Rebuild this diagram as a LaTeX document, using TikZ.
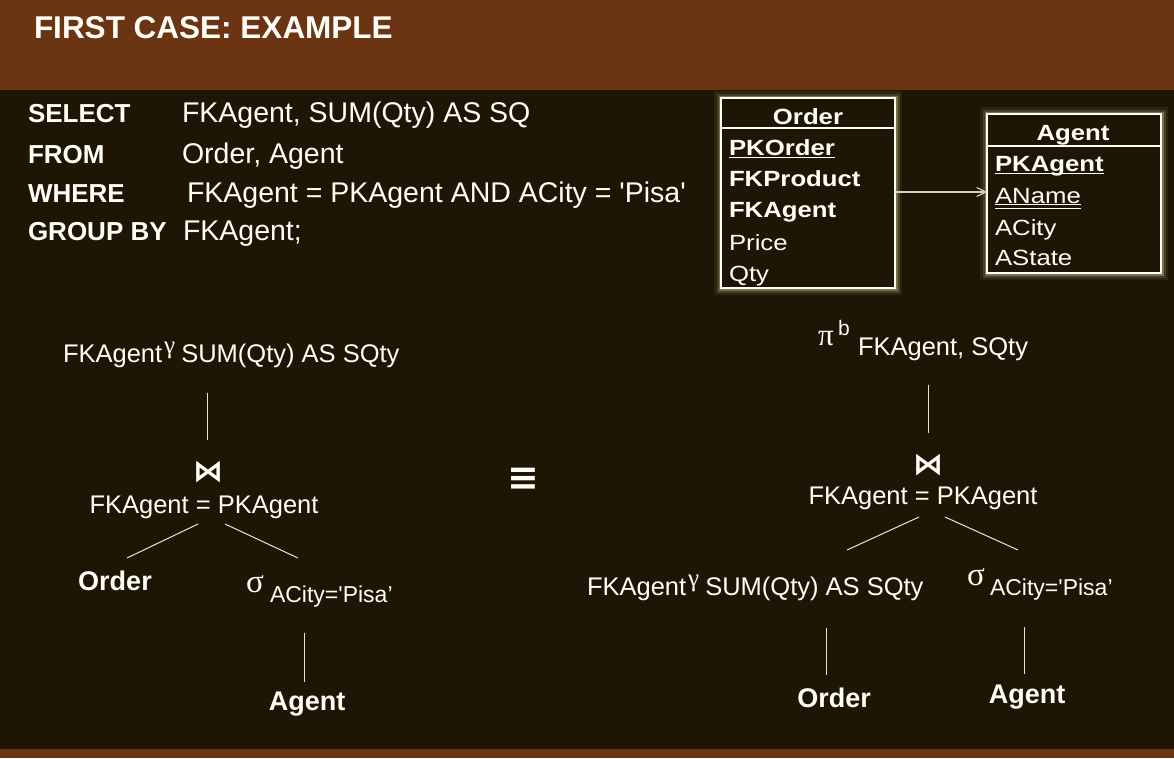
\documentclass[tikz,border=0pt]{standalone}
\usepackage{fontspec}
\setmainfont{Liberation Sans}
\newfontfamily\erfont[FakeStretch=1.17]{Liberation Sans}
\newfontfamily\symfnt{DejaVu Sans}
\newfontfamily\grk{Liberation Serif}
\usetikzlibrary{arrows.meta,calc}
\definecolor{bandc}{HTML}{6B3513}
\definecolor{bgc}{HTML}{1F1505}
\definecolor{fgc}{HTML}{FFFFF8}
\definecolor{linec}{HTML}{E6E6D2}
\definecolor{glowc}{HTML}{F0E8A8}
\definecolor{arrc}{HTML}{D4D4C4}
\newcommand\fsz[1]{\fontsize{#1}{#1}\selectfont}
\newcommand\gam{\hspace{2pt}\raisebox{9pt}{\grk\fsz{25}γ}\hspace{6pt}}
\begin{document}
\begin{tikzpicture}[x=1pt,y=-1pt,
  every node/.style={inner sep=0pt,outer sep=0pt,text=fgc},
  titletx/.style={font=\bfseries\fsz{31.5}},
  sqlkw/.style={font=\bfseries\fsz{26}},
  sqlval/.style={font=\fsz{28.5}},
  trtxt/.style={font=\fsz{25.5}},
  leaf/.style={font=\bfseries\fsz{27}},
  subtx/.style={font=\fsz{23}},
  grksym/.style={font=\grk\fsz{33}},
  joinsym/.style={font=\symfnt\bfseries\fsz{30}},
  eqsym/.style={font=\symfnt\bfseries\fsz{38}},
  erhd/.style={font=\erfont\bfseries\fsz{22}},
  errg/.style={font=\erfont\fsz{22}},
  erbox/.style={draw=fgc,line width=1.8pt,fill=bgc,
    preaction={draw=glowc,line width=14pt,opacity=0.07},
    preaction={draw=glowc,line width=9pt,opacity=0.14},
    preaction={draw=glowc,line width=5pt,opacity=0.3}},
  erline/.style={draw=fgc,line width=1.8pt},
  erarrow/.style={draw=arrc,line width=1.2pt,-{Straight Barb[length=9pt,width=9pt]}},
  ul/.style={draw=fgc,line width=1.5pt},
  edge/.style={draw=linec,line width=1pt}]
\useasboundingbox (0,0) rectangle (1174,758);
\fill[bgc] (0,0) rectangle (1174,758);
\fill[bandc] (0,0) rectangle (1174,90);
\fill[bandc] (0,749) rectangle (1174,758);

% title
\node[titletx,anchor=base west] (title) at (34,38) {FIRST CASE: EXAMPLE};

% SQL
\node[sqlkw,anchor=base west] (kwsel) at (28,122) {SELECT};
\node[sqlkw,anchor=base west] (kwfrom) at (28,163) {FROM};
\node[sqlkw,anchor=base west] (kwwhere) at (28,202) {WHERE};
\node[sqlkw,anchor=base west] (kwgroup) at (28,240) {GROUP BY};
\node[sqlval,anchor=base west] (vsel) at (182,122) {FKAgent, SUM(Qty) AS SQ};
\node[sqlval,anchor=base west] (vfrom) at (182,163) {Order, Agent};
\node[sqlval,anchor=base west] (vwhere) at (187,202) {FKAgent = PKAgent AND ACity = \textquotesingle Pisa\textquotesingle};
\node[sqlval,anchor=base west] (vgroup) at (183,240) {FKAgent;};

% ER boxes
\node[erbox,minimum width=174pt,minimum height=190pt] (ordbox) at (808,193) {};
\node[erbox,minimum width=174pt,minimum height=159pt] (agbox) at (1074,193.5) {};
\draw[erline] (ordbox.west |- 0,128) -- (ordbox.east |- 0,128);
\draw[erline] (agbox.west |- 0,146) -- (agbox.east |- 0,146);
\draw[erarrow] (ordbox.east |- 0,192) -- (agbox.west |- 0,192);

\node[erhd,anchor=base] (ordhd) at (808,124) {Order};
\node[erhd,anchor=base west] (pko) at (729,155) {PKOrder};
\node[erhd,anchor=base west] (fkp) at (729,186) {FKProduct};
\node[erhd,anchor=base west] (fka) at (729,217) {FKAgent};
\node[errg,anchor=base west] (price) at (729,250) {Price};
\node[errg,anchor=base west] (qty) at (729,281) {Qty};
\draw[ul] ($(pko.base west)+(0,2.5)$) -- ($(pko.base east)+(0,2.5)$);

\node[erhd,anchor=base] (aghd) at (1073,140) {Agent};
\node[erhd,anchor=base west] (pka) at (995,171) {PKAgent};
\node[errg,anchor=base west] (aname) at (995,203) {AName};
\node[errg,anchor=base west] (acity) at (995,235) {ACity};
\node[errg,anchor=base west] (astate) at (995,265) {AState};
\draw[ul] ($(pka.base west)+(0,2.5)$) -- ($(pka.base east)+(0,2.5)$);
\draw[ul,line width=1.2pt] ($(aname.base west)+(0,1.5)$) -- ($(aname.base east)+(0,1.5)$);
\draw[ul,line width=1.2pt] ($(aname.base west)+(0,5.5)$) -- ($(aname.base east)+(0,5.5)$);

% left tree
\node[trtxt,anchor=base west] (lgrp) at (63,362) {FKAgent\gam SUM(Qty) AS SQty};
\node[joinsym] (ljn) at (208,472) {⋈};
\node[trtxt,anchor=base] (lcond) at (204,513) {FKAgent = PKAgent};
\node[leaf,anchor=base] (lord) at (115,590) {Order};
\node[grksym,anchor=base west] (lsig) at (246,592) {σ};
\node[subtx,anchor=base west] (lsub) at (270,602) {ACity=\textquotesingle Pisa’};
\node[leaf,anchor=base] (lag) at (307,710) {Agent};
\coordinate (la1) at (207,393); \coordinate (la2) at (207,440);
\coordinate (lb1) at (198,524); \coordinate (lb2) at (127,558);
\coordinate (lc1) at (225,524); \coordinate (lc2) at (298,558);
\coordinate (ld1) at (304,633); \coordinate (ld2) at (304,682);
\draw[edge] (la1) -- (la2);
\draw[edge] (lb1) -- (lb2);
\draw[edge] (lc1) -- (lc2);
\draw[edge] (ld1) -- (ld2);

% equivalence
\node[eqsym] (equiv) at (523,479) {≡};

% right tree
\node[grksym,anchor=base west,font=\grk\fsz{31}] (rpi) at (818,345) {π};
\node[trtxt,anchor=base west,font=\fsz{21}] (rb) at (838,335) {b};
\node[trtxt,anchor=base west] (rproj) at (858,355) {FKAgent, SQty};
\node[joinsym] (rjn) at (928,465) {⋈};
\node[trtxt,anchor=base] (rcond) at (923,504) {FKAgent = PKAgent};
\node[trtxt,anchor=base west] (rgrp) at (587,595) {FKAgent\gam SUM(Qty) AS SQty};
\node[grksym,anchor=base west] (rsig) at (967,585) {σ};
\node[subtx,anchor=base west] (rsub) at (990,595) {ACity=\textquotesingle Pisa’};
\node[leaf,anchor=base] (rord) at (834,707) {Order};
\node[leaf,anchor=base] (rag) at (1027,703) {Agent};
\coordinate (ra1) at (928,385); \coordinate (ra2) at (928,433);
\coordinate (rb1) at (919,517); \coordinate (rb2) at (847,550);
\coordinate (rc1) at (945,517); \coordinate (rc2) at (1018,550);
\coordinate (rd1) at (826,628); \coordinate (rd2) at (826,675);
\coordinate (re1) at (1024,627); \coordinate (re2) at (1024,674);
\draw[edge] (ra1) -- (ra2);
\draw[edge] (rb1) -- (rb2);
\draw[edge] (rc1) -- (rc2);
\draw[edge] (rd1) -- (rd2);
\draw[edge] (re1) -- (re2);
\end{tikzpicture}
\end{document}
